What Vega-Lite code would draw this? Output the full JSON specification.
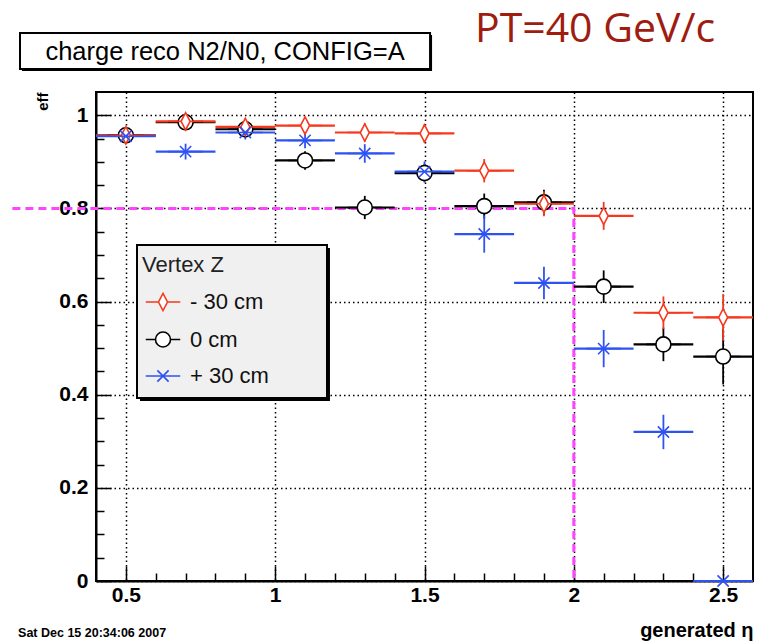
{
  "$schema": "https://vega.github.io/schema/vega-lite/v6.json",
  "width": 657,
  "height": 489,
  "autosize": {"type": "none"},
  "padding": {"left": 96, "top": 92, "right": 8, "bottom": 62},
  "background": "white",
  "resolve": {"axis": {"x": "independent", "y": "independent"}},
  "config": {
    "view": {"stroke": "black", "strokeWidth": 2},
    "font": "Liberation Sans"
  },
  "datasets": {
    "pts": [
      {"s": "0 cm", "eta": 0.5, "lo": 0.4, "hi": 0.6, "eff": 0.957, "elo": 0.947, "ehi": 0.967},
      {"s": "0 cm", "eta": 0.7, "lo": 0.6, "hi": 0.8, "eff": 0.985, "elo": 0.973, "ehi": 0.997},
      {"s": "0 cm", "eta": 0.9, "lo": 0.8, "hi": 1.0, "eff": 0.970, "elo": 0.955, "ehi": 0.985},
      {"s": "0 cm", "eta": 1.1, "lo": 1.0, "hi": 1.2, "eff": 0.903, "elo": 0.883, "ehi": 0.923},
      {"s": "0 cm", "eta": 1.3, "lo": 1.2, "hi": 1.4, "eff": 0.802, "elo": 0.777, "ehi": 0.827},
      {"s": "0 cm", "eta": 1.5, "lo": 1.4, "hi": 1.6, "eff": 0.876, "elo": 0.856, "ehi": 0.896},
      {"s": "0 cm", "eta": 1.7, "lo": 1.6, "hi": 1.8, "eff": 0.805, "elo": 0.778, "ehi": 0.832},
      {"s": "0 cm", "eta": 1.9, "lo": 1.8, "hi": 2.0, "eff": 0.813, "elo": 0.786, "ehi": 0.840},
      {"s": "0 cm", "eta": 2.1, "lo": 2.0, "hi": 2.2, "eff": 0.632, "elo": 0.597, "ehi": 0.667},
      {"s": "0 cm", "eta": 2.3, "lo": 2.2, "hi": 2.4, "eff": 0.508, "elo": 0.472, "ehi": 0.544},
      {"s": "0 cm", "eta": 2.5, "lo": 2.4, "hi": 2.6, "eff": 0.482, "elo": 0.422, "ehi": 0.542},
      {"s": "- 30 cm", "eta": 0.5, "lo": 0.4, "hi": 0.6, "eff": 0.957, "elo": 0.947, "ehi": 0.967},
      {"s": "- 30 cm", "eta": 0.7, "lo": 0.6, "hi": 0.8, "eff": 0.987, "elo": 0.975, "ehi": 0.999},
      {"s": "- 30 cm", "eta": 0.9, "lo": 0.8, "hi": 1.0, "eff": 0.975, "elo": 0.960, "ehi": 0.990},
      {"s": "- 30 cm", "eta": 1.1, "lo": 1.0, "hi": 1.2, "eff": 0.978, "elo": 0.963, "ehi": 0.993},
      {"s": "- 30 cm", "eta": 1.3, "lo": 1.2, "hi": 1.4, "eff": 0.963, "elo": 0.943, "ehi": 0.983},
      {"s": "- 30 cm", "eta": 1.5, "lo": 1.4, "hi": 1.6, "eff": 0.961, "elo": 0.941, "ehi": 0.981},
      {"s": "- 30 cm", "eta": 1.7, "lo": 1.6, "hi": 1.8, "eff": 0.881, "elo": 0.856, "ehi": 0.906},
      {"s": "- 30 cm", "eta": 1.9, "lo": 1.8, "hi": 2.0, "eff": 0.810, "elo": 0.783, "ehi": 0.837},
      {"s": "- 30 cm", "eta": 2.1, "lo": 2.0, "hi": 2.2, "eff": 0.784, "elo": 0.754, "ehi": 0.814},
      {"s": "- 30 cm", "eta": 2.3, "lo": 2.2, "hi": 2.4, "eff": 0.576, "elo": 0.541, "ehi": 0.611},
      {"s": "- 30 cm", "eta": 2.5, "lo": 2.4, "hi": 2.6, "eff": 0.566, "elo": 0.516, "ehi": 0.616},
      {"s": "+ 30 cm", "eta": 0.5, "lo": 0.4, "hi": 0.6, "eff": 0.955, "elo": 0.945, "ehi": 0.965},
      {"s": "+ 30 cm", "eta": 0.7, "lo": 0.6, "hi": 0.8, "eff": 0.922, "elo": 0.905, "ehi": 0.939},
      {"s": "+ 30 cm", "eta": 0.9, "lo": 0.8, "hi": 1.0, "eff": 0.963, "elo": 0.948, "ehi": 0.978},
      {"s": "+ 30 cm", "eta": 1.1, "lo": 1.0, "hi": 1.2, "eff": 0.946, "elo": 0.929, "ehi": 0.963},
      {"s": "+ 30 cm", "eta": 1.3, "lo": 1.2, "hi": 1.4, "eff": 0.918, "elo": 0.898, "ehi": 0.938},
      {"s": "+ 30 cm", "eta": 1.5, "lo": 1.4, "hi": 1.6, "eff": 0.879, "elo": 0.857, "ehi": 0.901},
      {"s": "+ 30 cm", "eta": 1.7, "lo": 1.6, "hi": 1.8, "eff": 0.745, "elo": 0.705, "ehi": 0.785},
      {"s": "+ 30 cm", "eta": 1.9, "lo": 1.8, "hi": 2.0, "eff": 0.640, "elo": 0.605, "ehi": 0.675},
      {"s": "+ 30 cm", "eta": 2.1, "lo": 2.0, "hi": 2.2, "eff": 0.499, "elo": 0.459, "ehi": 0.539},
      {"s": "+ 30 cm", "eta": 2.3, "lo": 2.2, "hi": 2.4, "eff": 0.320, "elo": 0.283, "ehi": 0.357},
      {"s": "+ 30 cm", "eta": 2.5, "lo": 2.4, "hi": 2.6, "eff": 0.0, "elo": 0.0, "ehi": 0.0}
    ]
  },
  "layer": [
    {
      "data": {"values": [{"x": 0.12, "y": 0.8, "o": 1}, {"x": 2.0, "y": 0.8, "o": 2}, {"x": 2.0, "y": 0.0, "o": 3}]},
      "mark": {"type": "line", "color": "#ff44ff", "strokeWidth": 3, "strokeDash": [8, 5], "clip": false},
      "encoding": {
        "x": {
          "field": "x", "type": "quantitative",
          "scale": {"domain": [0.4, 2.6], "nice": false, "zero": false},
          "axis": {
            "orient": "bottom",
            "values": [0.5, 1, 1.5, 2, 2.5],
            "domainColor": "black", "domainWidth": 2,
            "tickColor": "black", "tickWidth": 1.5, "tickSize": -15,
            "grid": true, "gridColor": "black", "gridDash": [1.5, 3], "gridWidth": 1.5,
            "labelExpr": "format(datum.value,'~g')",
            "labelFont": "Liberation Sans", "labelFontWeight": "bold", "labelFontSize": 21, "labelColor": "black",
            "labelPadding": 18, "labelOverlap": false, "labelFlush": false,
            "title": "generated η", "titleAnchor": "end", "titleFont": "Liberation Sans", "titleFontSize": 20,
            "titleFontWeight": "bold", "titleColor": "black", "titlePadding": 15
          }
        },
        "y": {
          "field": "y", "type": "quantitative",
          "scale": {"domain": [0, 1.05], "nice": false, "zero": false},
          "axis": {
            "orient": "left",
            "values": [0, 0.2, 0.4, 0.6, 0.8, 1],
            "domainColor": "black", "domainWidth": 2,
            "tickColor": "black", "tickWidth": 1.5, "tickSize": -15,
            "grid": true, "gridColor": "black", "gridDash": [1.5, 3], "gridWidth": 1.5,
            "labelExpr": "format(datum.value,'~g')",
            "labelFont": "Liberation Sans", "labelFontWeight": "bold", "labelFontSize": 21, "labelColor": "black",
            "labelPadding": 23, "labelOverlap": false, "labelFlush": false,
            "title": "eff", "titleAnchor": "end", "titleFont": "Liberation Sans", "titleFontSize": 15,
            "titleFontWeight": "bold", "titleColor": "black", "titlePadding": 8
          }
        },
        "order": {"field": "o", "type": "quantitative"}
      }
    },
    {
      "data": {"name": "pts"},
      "transform": [{"filter": "datum.s == '0 cm'"}],
      "mark": {"type": "rule", "strokeWidth": 2.2, "color": "#000000"},
      "encoding": {
        "x": {"field": "lo", "type": "quantitative", "scale": {"domain": [0.4, 2.6], "nice": false, "zero": false},
          "axis": {"orient": "bottom", "values": [0.6, 0.7, 0.8, 0.9, 1.1, 1.2, 1.3, 1.4, 1.6, 1.7, 1.8, 1.9, 2.1, 2.2, 2.3, 2.4],
            "domain": false, "grid": false, "labels": false, "title": null, "tickColor": "black", "tickWidth": 1.5, "tickSize": -8}},
        "x2": {"field": "hi"},
        "y": {"field": "eff", "type": "quantitative", "scale": {"domain": [0, 1.05], "nice": false, "zero": false},
          "axis": {"orient": "left", "values": [0.05, 0.1, 0.15, 0.25, 0.3, 0.35, 0.45, 0.5, 0.55, 0.65, 0.7, 0.75, 0.85, 0.9, 0.95],
            "domain": false, "grid": false, "labels": false, "title": null, "tickColor": "black", "tickWidth": 1.5, "tickSize": -8}}
      }
    },
    {
      "data": {"name": "pts"},
      "transform": [{"filter": "datum.s == '- 30 cm'"}],
      "mark": {"type": "rule", "strokeWidth": 2.2, "color": "#f5391e"},
      "encoding": {
        "x": {"field": "lo", "type": "quantitative", "scale": {"domain": [0.4, 2.6], "nice": false, "zero": false}, "axis": null},
        "x2": {"field": "hi"},
        "y": {"field": "eff", "type": "quantitative", "scale": {"domain": [0, 1.05], "nice": false, "zero": false}, "axis": null}
      }
    },
    {
      "data": {"name": "pts"},
      "transform": [{"filter": "datum.s == '+ 30 cm'"}],
      "mark": {"type": "rule", "strokeWidth": 2.2, "color": "#2f52f2"},
      "encoding": {
        "x": {"field": "lo", "type": "quantitative", "scale": {"domain": [0.4, 2.6], "nice": false, "zero": false}, "axis": null},
        "x2": {"field": "hi"},
        "y": {"field": "eff", "type": "quantitative", "scale": {"domain": [0, 1.05], "nice": false, "zero": false}, "axis": null}
      }
    },
    {
      "data": {"name": "pts"},
      "transform": [{"filter": "datum.s == '0 cm'"}],
      "mark": {"type": "rule", "strokeWidth": 1.8, "color": "#000000"},
      "encoding": {
        "x": {"field": "eta", "type": "quantitative", "scale": {"domain": [0.4, 2.6], "nice": false, "zero": false}, "axis": null},
        "y": {"field": "elo", "type": "quantitative", "scale": {"domain": [0, 1.05], "nice": false, "zero": false}, "axis": null},
        "y2": {"field": "ehi"}
      }
    },
    {
      "data": {"name": "pts"},
      "transform": [{"filter": "datum.s == '- 30 cm'"}],
      "mark": {"type": "rule", "strokeWidth": 1.8, "color": "#f5391e"},
      "encoding": {
        "x": {"field": "eta", "type": "quantitative", "scale": {"domain": [0.4, 2.6], "nice": false, "zero": false}, "axis": null},
        "y": {"field": "elo", "type": "quantitative", "scale": {"domain": [0, 1.05], "nice": false, "zero": false}, "axis": null},
        "y2": {"field": "ehi"}
      }
    },
    {
      "data": {"name": "pts"},
      "transform": [{"filter": "datum.s == '+ 30 cm'"}],
      "mark": {"type": "rule", "strokeWidth": 1.8, "color": "#2f52f2"},
      "encoding": {
        "x": {"field": "eta", "type": "quantitative", "scale": {"domain": [0.4, 2.6], "nice": false, "zero": false}, "axis": null},
        "y": {"field": "elo", "type": "quantitative", "scale": {"domain": [0, 1.05], "nice": false, "zero": false}, "axis": null},
        "y2": {"field": "ehi"}
      }
    },
    {
      "data": {"name": "pts"},
      "mark": {"type": "point", "filled": false, "fill": "white", "size": 225, "strokeWidth": 1.6, "opacity": 1},
      "encoding": {
        "x": {"field": "eta", "type": "quantitative", "scale": {"domain": [0.4, 2.6], "nice": false, "zero": false}, "axis": null},
        "y": {"field": "eff", "type": "quantitative", "scale": {"domain": [0, 1.05], "nice": false, "zero": false}, "axis": null},
        "color": {
          "field": "s", "type": "nominal", "title": "Vertex Z",
          "scale": {"domain": ["- 30 cm", "0 cm", "+ 30 cm"], "range": ["#f5391e", "#000000", "#2f52f2"]},
          "legend": {
            "title": "Vertex Z", "orient": "none", "legendX": 41, "legendY": 158,
            "padding": 5,
            "titleFont": "Liberation Sans", "titleFontSize": 22, "titleFontWeight": "normal", "titleColor": "#222222", "titlePadding": 14,
            "labelFont": "Liberation Sans", "labelFontSize": 22, "labelColor": "#111111",
            "symbolSize": 225, "symbolStrokeWidth": 1.6, "symbolOffset": 10, "labelOffset": 16, "rowPadding": 14.5
          }
        },
        "shape": {
          "field": "s", "type": "nominal", "title": "Vertex Z",
          "scale": {"domain": ["- 30 cm", "0 cm", "+ 30 cm"], "range": [
            "M0,-1.15L0.6,0L0,1.15L-0.6,0Z M-2.3,0H-0.6M0.6,0H2.3",
            "M-1,0A1,1 0 1,1 1,0A1,1 0 1,1 -1,0Z M-2.3,0H-1M1,0H2.3",
            "M-0.75,-0.75L0.75,0.75M-0.75,0.75L0.75,-0.75M-2.3,0H2.3"
          ]},
          "legend": {
            "title": "Vertex Z", "orient": "none", "legendX": 41, "legendY": 158,
            "padding": 5,
            "titleFont": "Liberation Sans", "titleFontSize": 22, "titleFontWeight": "normal", "titleColor": "#222222", "titlePadding": 14,
            "labelFont": "Liberation Sans", "labelFontSize": 22, "labelColor": "#111111",
            "symbolSize": 225, "symbolStrokeWidth": 1.6, "symbolOffset": 10, "labelOffset": 16, "rowPadding": 14.5
          }
        }
      }
    },
    {
      "data": {"values": [{"a": 0.5473, "b": 1.1835, "c": 0.3866, "d": 0.7151}]},
      "mark": {"type": "rect", "fill": "black", "clip": false},
      "encoding": {
        "x": {"field": "a", "type": "quantitative", "scale": {"domain": [0.4, 2.6], "nice": false, "zero": false}, "axis": null},
        "x2": {"field": "b"},
        "y": {"field": "c", "type": "quantitative", "scale": {"domain": [0, 1.05], "nice": false, "zero": false}, "axis": null},
        "y2": {"field": "d"}
      }
    },
    {
      "data": {"values": [{"a": 0.5373, "b": 1.1735, "c": 0.3930, "d": 0.7215}]},
      "mark": {"type": "rect", "fill": "#f0f0f0", "stroke": "black", "strokeWidth": 2, "clip": false},
      "encoding": {
        "x": {"field": "a", "type": "quantitative", "scale": {"domain": [0.4, 2.6], "nice": false, "zero": false}, "axis": null},
        "x2": {"field": "b"},
        "y": {"field": "c", "type": "quantitative", "scale": {"domain": [0, 1.05], "nice": false, "zero": false}, "axis": null},
        "y2": {"field": "d"}
      }
    },
    {
      "data": {"values": [{"a": 0.152, "b": 1.5253, "c": 1.0951, "d": 1.1724}]},
      "mark": {"type": "rect", "fill": "black", "clip": false},
      "encoding": {
        "x": {"field": "a", "type": "quantitative", "scale": {"domain": [0.4, 2.6], "nice": false, "zero": false}, "axis": null},
        "x2": {"field": "b"},
        "y": {"field": "c", "type": "quantitative", "scale": {"domain": [0, 1.05], "nice": false, "zero": false}, "axis": null},
        "y2": {"field": "d"}
      }
    },
    {
      "data": {"values": [{"a": 0.1455, "b": 1.5186, "c": 1.0994, "d": 1.1767}]},
      "mark": {"type": "rect", "fill": "white", "stroke": "black", "strokeWidth": 2, "clip": false},
      "encoding": {
        "x": {"field": "a", "type": "quantitative", "scale": {"domain": [0.4, 2.6], "nice": false, "zero": false}, "axis": null},
        "x2": {"field": "b"},
        "y": {"field": "c", "type": "quantitative", "scale": {"domain": [0, 1.05], "nice": false, "zero": false}, "axis": null},
        "y2": {"field": "d"}
      }
    },
    {
      "data": {"values": [
        {"t": "charge reco N2/N0, CONFIG=A", "x": 0.832, "y": 1.1187}
      ]},
      "mark": {"type": "text", "font": "Liberation Sans", "fontSize": 25.5, "color": "black", "align": "center", "baseline": "alphabetic", "clip": false},
      "encoding": {
        "x": {"field": "x", "type": "quantitative", "scale": {"domain": [0.4, 2.6], "nice": false, "zero": false}, "axis": null},
        "y": {"field": "y", "type": "quantitative", "scale": {"domain": [0, 1.05], "nice": false, "zero": false}, "axis": null},
        "text": {"field": "t"}
      }
    },
    {
      "data": {"values": [
        {"t": "PT=40 GeV/c", "x": 1.669, "y": 1.1574}
      ]},
      "mark": {"type": "text", "font": "Open Sans", "fontSize": 41, "color": "#a01c10", "align": "left", "baseline": "alphabetic", "clip": false},
      "encoding": {
        "x": {"field": "x", "type": "quantitative", "scale": {"domain": [0.4, 2.6], "nice": false, "zero": false}, "axis": null},
        "y": {"field": "y", "type": "quantitative", "scale": {"domain": [0, 1.05], "nice": false, "zero": false}, "axis": null},
        "text": {"field": "t"}
      }
    },
    {
      "data": {"values": [
        {"t": "Sat Dec 15 20:34:06 2007", "x": 0.139, "y": -0.1202}
      ]},
      "mark": {"type": "text", "font": "Liberation Sans", "fontSize": 12.5, "fontWeight": "bold", "color": "black", "align": "left", "baseline": "alphabetic", "clip": false},
      "encoding": {
        "x": {"field": "x", "type": "quantitative", "scale": {"domain": [0.4, 2.6], "nice": false, "zero": false}, "axis": null},
        "y": {"field": "y", "type": "quantitative", "scale": {"domain": [0, 1.05], "nice": false, "zero": false}, "axis": null},
        "text": {"field": "t"}
      }
    }
  ]
}
